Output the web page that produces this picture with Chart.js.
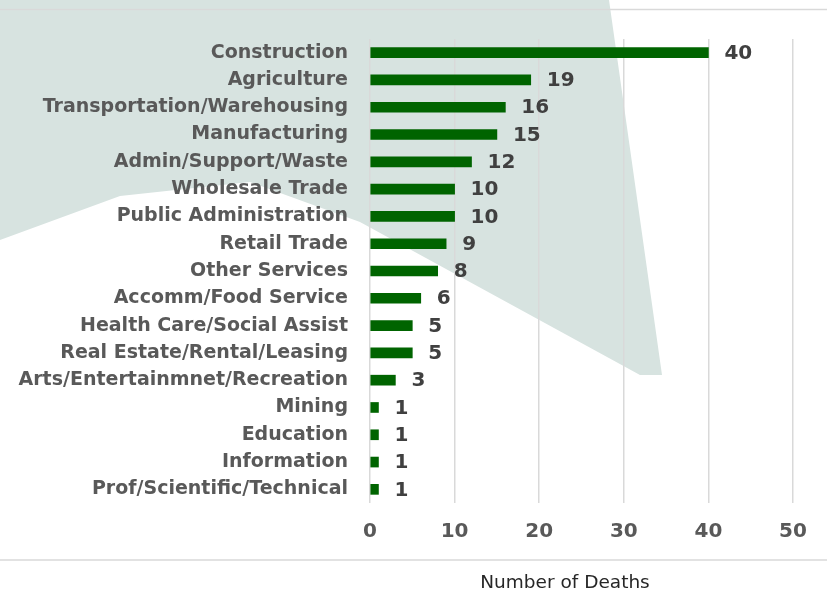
<!DOCTYPE html>
<html>
<head>
<meta charset="utf-8">
<script src="https://cdn.jsdelivr.net/npm/chart.js@4.4.1/dist/chart.umd.min.js"></script>
<style>
  html, body { margin: 0; padding: 0; background: #ffffff; }
  #wrap { width: 827px; height: 590px; position: relative; }
</style>
</head>
<body>
<div id="wrap"><canvas id="deathsChart" width="827" height="590"></canvas></div>
<script>
// 行業別死亡人數
const industries = [
  'Construction', 'Agriculture', 'Transportation/Warehousing', 'Manufacturing',
  'Admin/Support/Waste', 'Wholesale Trade', 'Public Administration', 'Retail Trade',
  'Other Services', 'Accomm/Food Service', 'Health Care/Social Assist',
  'Real Estate/Rental/Leasing', 'Arts/Entertainmnet/Recreation', 'Mining',
  'Education', 'Information', 'Prof/Scientific/Technical'
];
const deaths = [40, 19, 16, 15, 12, 10, 10, 9, 8, 6, 5, 5, 3, 1, 1, 1, 1];
const xTicks = [0, 10, 20, 30, 40, 50];
const axisTitle = 'Number of Deaths';

// 背景浮水印 + 上下分隔線
const backdrop = {
  id: 'backdrop',
  beforeDraw(chart) {
    const c = chart.ctx;
    c.save();
    c.fillStyle = '#ffffff';
    c.fillRect(0, 0, chart.width, chart.height);
    c.fillStyle = '#d7e3e0';
    c.beginPath();
    c.moveTo(0, 0);
    c.lineTo(609, 0);
    c.lineTo(662, 375);
    c.lineTo(640, 375);
    c.lineTo(360, 222);
    c.lineTo(250, 182);
    c.lineTo(120, 196);
    c.lineTo(0, 240);
    c.closePath();
    c.fill();
    c.strokeStyle = '#d9d9d9';
    c.lineWidth = 1.5;
    c.beginPath();
    c.moveTo(0, 9.5);
    c.lineTo(chart.width, 9.5);
    c.moveTo(0, 560);
    c.lineTo(chart.width, 560);
    c.stroke();
    c.restore();
  }
};

// 數值標籤與座標軸標題
const valueLabels = {
  id: 'valueLabels',
  afterDraw(chart) {
    const c = chart.ctx;
    const meta = chart.getDatasetMeta(0);
    c.save();
    c.font = 'bold 20px "DejaVu Sans", Verdana, sans-serif';
    c.fillStyle = '#404040';
    c.textAlign = 'left';
    c.textBaseline = 'middle';
    meta.data.forEach((bar, i) => {
      c.fillText(String(deaths[i]), bar.x + 16, bar.y + 1);
    });
    c.font = '18.5px "DejaVu Sans", Verdana, sans-serif';
    c.fillStyle = '#262626';
    c.textAlign = 'center';
    c.fillText(axisTitle, 565, 583);
    c.restore();
  }
};

new Chart(document.getElementById('deathsChart'), {
  type: 'bar',
  data: {
    labels: industries,
    datasets: [{
      label: axisTitle,
      data: deaths,
      backgroundColor: '#006400',
      borderWidth: 0,
      barThickness: 10
    }]
  },
  options: {
    indexAxis: 'y',
    responsive: false,
    animation: false,
    layout: { padding: { top: 39, right: 34, bottom: 0, left: 0 } },
    scales: {
      x: {
        min: 0,
        max: 50,
        afterFit(scale) { scale.height = 87; },
        afterBuildTicks(scale) { scale.ticks = xTicks.map(v => ({ value: v })); },
        grid: { color: '#d9d9d9', lineWidth: 1.5, drawTicks: false },
        border: { display: false },
        ticks: {
          padding: 17,
          color: '#595959',
          font: { family: '"DejaVu Sans", Verdana, sans-serif', size: 20, weight: 'bold' }
        }
      },
      y: {
        afterFit(scale) { scale.width = 370; },
        grid: { display: false, drawTicks: false },
        border: { display: false },
        ticks: {
          padding: 22,
          autoSkip: false,
          color: '#595959',
          font: { family: '"DejaVu Sans", Verdana, sans-serif', size: 19, weight: 'bold' }
        }
      }
    },
    plugins: {
      legend: { display: false },
      tooltip: { enabled: false }
    }
  },
  plugins: [backdrop, valueLabels]
});
</script>
</body>
</html>
